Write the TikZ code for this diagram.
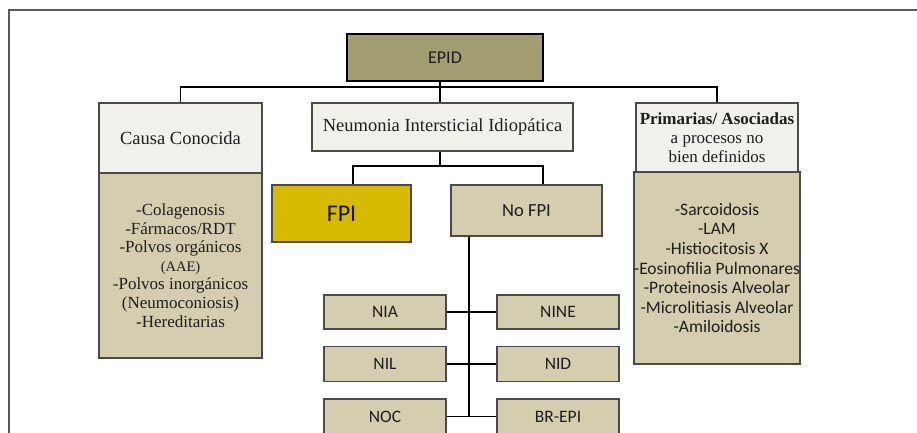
\documentclass[tikz,border=0pt]{standalone}
\usepackage{fontspec}
\setmainfont{Liberation Serif}
\newfontfamily\sansf{Carlito}
\definecolor{olivefill}{HTML}{A39E71}
\definecolor{lightfill}{HTML}{F2F0EA}
\definecolor{tanfill}{HTML}{D5CDAF}
\definecolor{goldfill}{HTML}{D6BA00}
\definecolor{edgecol}{HTML}{4A4A4A}
\definecolor{framecol}{HTML}{5A5A5A}
\definecolor{txt}{HTML}{1E1E1E}
\begin{document}
\begin{tikzpicture}[x=1pt,y=-1pt,
  basebox/.style={draw=edgecol, line width=1.3pt, inner sep=0pt, align=center, text=txt},
  lightbox/.style={basebox, fill=lightfill, font=\fontsize{18.5}{19}\selectfont},
  tanbox/.style={basebox, fill=tanfill},
  serlist/.style={tanbox, font=\fontsize{17}{18.6}\selectfont},
  sanlist/.style={tanbox, font=\sansf\fontsize{17.5}{19.6}\selectfont},
  smallbox/.style={tanbox, font=\sansf\fontsize{17.5}{18}\selectfont, minimum width=122pt},
  conn/.style={draw=black, line width=1.8pt}
]
\useasboundingbox (0,0) rectangle (917,432);
\clip (0,0) rectangle (917,432);
\fill[white] (0,0) rectangle (917,432);
\draw[framecol, line width=1.2pt] (9,445) -- (9,10) -- (930,10);

% top
\node[basebox, draw=black, line width=2.5pt, fill=olivefill, minimum width=196pt, minimum height=47pt,
      font=\sansf\fontsize{18}{18}\selectfont] (epid) at (445,57.5) {EPID};

% left column
\node[serlist, minimum width=163pt, minimum height=185pt] (causaB) at (180.5,265.5)
  {-Colagenosis\\-Fármacos/RDT\\-Polvos orgánicos\\{\fontsize{14.5}{18.6}\selectfont (AAE)}\\-Polvos inorgánicos\\(Neumoconiosis)\\-Hereditarias};
\node[lightbox, minimum width=163pt, minimum height=70pt] (causaH) at (180.5,138) {\raisebox{-4pt}{Causa Conocida}};

% right column
\node[sanlist, minimum width=162pt, minimum height=192pt] (primB) at (717,268)
  {-Sarcoidosis\\-LAM\\-Histiocitosis X\\-Eosinofilia Pulmonares\\-Proteinosis Alveolar\\-Microlitiasis Alveolar\\-Amiloidosis};
\node[lightbox, minimum width=162pt, minimum height=69pt, font=\fontsize{17}{19}\selectfont] (primH) at (717,137.5)
  {\textbf{Primarias/ Asociadas}\\a procesos no\\bien definidos};

% middle
\node[lightbox, minimum width=261pt, minimum height=48pt] (neu) at (442.5,127) {Neumonia Intersticial Idiopática};
\node[basebox, fill=goldfill, minimum width=139pt, minimum height=57pt,
      font=\sansf\fontsize{24}{25}\selectfont, text=black!85!brown] (fpi) at (341.5,213.5) {\raisebox{-2pt}{FPI}};
\node[tanbox, minimum width=151pt, minimum height=51pt, font=\sansf\fontsize{18.5}{19}\selectfont] (nofpi) at (526.5,210.5) {No FPI};

\node[smallbox, minimum height=34pt] (nia) at (385,312) {NIA};
\node[smallbox, minimum height=34pt] (nine) at (558,312) {NINE};
\node[smallbox, minimum height=35pt] (nil) at (385,364) {NIL};
\node[smallbox, minimum height=35pt] (nid) at (558,364) {NID};
\node[smallbox, minimum height=35pt] (noc) at (385,416.5) {NOC};
\node[smallbox, minimum height=35pt] (brepi) at (558,416.5) {BR-EPI};

% connectors
\coordinate (bus) at (0,87);
\coordinate (nbus) at (0,166);
\draw[conn] (causaH.north) -- (causaH.north |- bus) -| (primH.north);
\draw[conn] ([xshift=-5pt]epid.south) -- ([xshift=-5pt]epid.south |- neu.north);
\draw[conn] ([xshift=-2.5pt]neu.south) -- ([xshift=-2.5pt]neu.south |- nbus);
\draw[conn] ([xshift=11.5pt]fpi.north) -- ([xshift=11.5pt]fpi.north |- nbus) -| ([xshift=16.5pt]nofpi.north);
\draw[conn] ([xshift=-57.5pt]nofpi.south) -- ([xshift=-57.5pt]nofpi.south |- noc.east);
\draw[conn] (nia.east) -- (nine.west);
\draw[conn] (nil.east) -- (nid.west);
\draw[conn] (noc.east) -- (brepi.west);
\end{tikzpicture}
\end{document}
